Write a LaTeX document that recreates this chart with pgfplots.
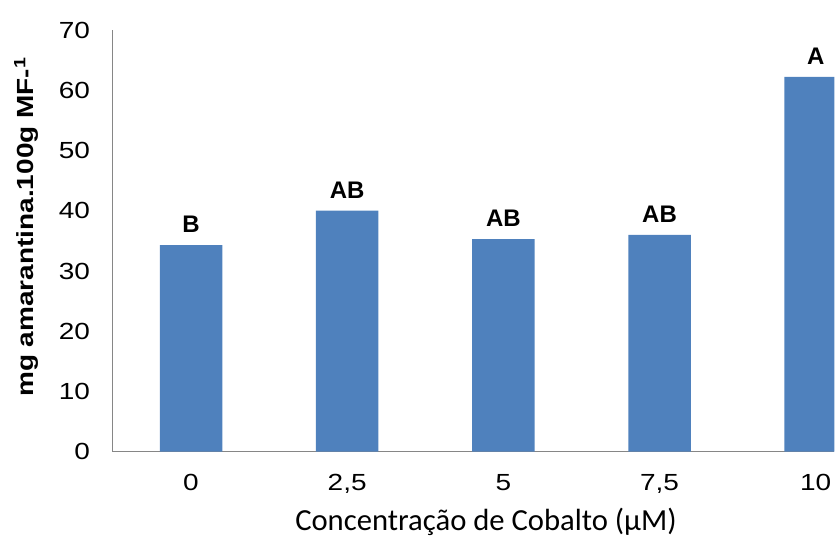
\documentclass[border=0pt]{standalone}
\usepackage{pgfplots}
\pgfplotsset{compat=1.18}
\usepackage{fontspec}
\setmainfont{Liberation Sans}
\newfontfamily\calibri{Carlito}
\definecolor{barblue}{RGB}{79,129,189}
\definecolor{axgray}{RGB}{134,134,134}
\newcommand{\sx}[1]{\scalebox{1.2}[1]{#1}}
\begin{document}
\begin{tikzpicture}
\begin{axis}[
  at={(0,0)}, anchor=south west,
  scale only axis,
  width=541.5pt, height=316.5pt,
  xmin=-0.5, xmax=4.12,
  ymin=0, ymax=70,
  ytick={0,10,...,70},
  xtick={0,1,2,3,4},
  xticklabels={\sx{0},\sx{2,5},\sx{5},\sx{7,5},\sx{10}},
  axis x line*=bottom, axis y line*=left,
  axis line style={axgray, line width=0.8pt, -},
  major tick length=0pt,
  /pgf/number format/assume math mode=true,
  tick label style={font=\fontsize{17.5}{20}\selectfont, inner sep=0pt},
  yticklabel={\sx{\pgfmathprintnumber{\tick}}},
  yticklabel style={anchor=east, xshift=-17pt},
  xticklabel style={anchor=north, yshift=-17pt},
  xlabel={\calibri Concentração de Cobalto (µM)},
  xlabel style={at={(axis description cs:0.517,0)}, anchor=north, yshift=-42pt, inner sep=0pt, font=\fontsize{23}{26}\selectfont},
  ylabel={\scalebox{1.2}[1]{\bfseries mg amarantina.100g MF-\textsuperscript{1}}},
  ylabel style={at={([xshift=-65pt]axis description cs:0,0.533)}, anchor=center, inner sep=0pt, font=\fontsize{17.5}{20}\selectfont},
  ybar, bar width=0.4,
  nodes near coords,
  point meta=explicit symbolic,
  nodes near coords style={font=\bfseries\fontsize{18}{21}\selectfont, anchor=south, inner sep=0pt, yshift=9pt},
]
\addplot[fill=barblue, draw=none] coordinates {
  (0,34.3) [B]
  (1,40.0) [AB]
  (2,35.3) [AB]
  (3,36.0) [AB]
  (4,62.2) [A]
};
\end{axis}
\useasboundingbox (-84.75pt,-63.75pt) rectangle (541.5pt,339pt);
\end{tikzpicture}
\end{document}
